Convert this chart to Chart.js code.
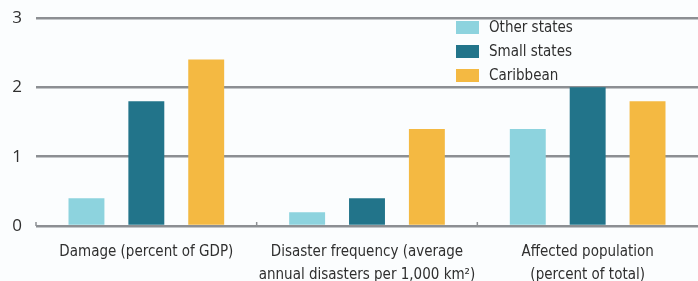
<!DOCTYPE html>
<html>
<head>
<meta charset="utf-8">
<script src="https://cdn.jsdelivr.net/npm/chart.js@4"></script>
<style>
  html, body { margin: 0; padding: 0; background: #fbfdfe; }
  #wrap { position: relative; width: 698px; height: 281px; }
  #legend {
    position: absolute; left: 456px; top: 15px;
    font-family: "DejaVu Sans Condensed", "Liberation Sans Narrow", sans-serif;
    font-size: 15px; color: #2f2f2f;
  }
  #legend div { height: 24px; display: flex; align-items: center; }
  #legend span.box { width: 23px; height: 13px; margin-right: 10px; display: inline-block; }
</style>
</head>
<body>
<div id="wrap">
  <canvas id="chart" width="698" height="281"></canvas>
  <div id="legend"></div>
</div>
<script>
// ── datos ──
const categorias = [
    ['Damage (percent of GDP)'],
    ['Disaster frequency (average', 'annual disasters per 1,000 km²)'],
    ['Affected population', '(percent of total)']
];
const otherStates = [0.4, 0.2, 1.4];
const smallStates = [1.8, 0.4, 2.0];
const caribbean   = [2.4, 1.4, 1.8];
const yTicks      = [0, 1, 2, 3];

const series = [
    { label: 'Other states', data: otherStates, color: '#8dd3de' },
    { label: 'Small states', data: smallStates, color: '#22748a' },
    { label: 'Caribbean',    data: caribbean,   color: '#f4b942' }
];

const fuente = '"DejaVu Sans Condensed", "Liberation Sans Narrow", sans-serif';

// marcas pequeñas hacia arriba en los límites de categoría
const marcasCategoria = {
    id: 'marcasCategoria',
    afterDatasetsDraw(chart) {
        const { ctx, scales: { x, y } } = chart;
        const base = y.getPixelForValue(0);
        const paso = x.getPixelForValue(1) - x.getPixelForValue(0);
        ctx.save();
        ctx.strokeStyle = '#8c8f93';
        ctx.lineWidth = 1.5;
        for (let i = 0; i < categorias.length; i++) {
            const px = x.getPixelForValue(i) - paso / 2;
            ctx.beginPath();
            ctx.moveTo(px, base);
            ctx.lineTo(px, base - 4);
            ctx.stroke();
        }
        ctx.restore();
    }
};

new Chart(document.getElementById('chart'), {
    type: 'bar',
    data: {
        labels: categorias,
        datasets: series.map(s => ({
            label: s.label,
            data: s.data,
            backgroundColor: s.color,
            categoryPercentage: 0.814,
            barPercentage: 0.6
        }))
    },
    options: {
        responsive: false,
        animation: false,
        layout: { padding: { top: 18, right: 0 } },
        plugins: { legend: { display: false }, tooltip: { enabled: false } },
        scales: {
            y: {
                min: 0, max: 3,
                afterBuildTicks: s => { s.ticks = yTicks.map(v => ({ value: v })); },
                afterFit: s => { s.width = 36; s.paddingTop = 0; s.paddingBottom = 0; },
                border: { display: false },
                grid: { color: '#8c8f93', lineWidth: 2.5, drawTicks: false },
                ticks: { color: '#2f2f2f', padding: 14, font: { family: '"Open Sans", sans-serif', size: 17 } }
            },
            x: {
                afterFit: s => { s.height = 55; s.paddingLeft = 0; s.paddingRight = 0; },
                border: { display: false },
                grid: { display: false },
                ticks: {
                    color: '#2f2f2f', padding: 7, autoSkip: false,
                    maxRotation: 0, minRotation: 0,
                    font: { family: fuente, size: 15, lineHeight: 1.5 }
                }
            }
        }
    },
    plugins: [marcasCategoria]
});

document.getElementById('legend').innerHTML = series.map(s =>
    `<div><span class="box" style="background:${s.color}"></span>${s.label}</div>`
).join('');
</script>
</body>
</html>
